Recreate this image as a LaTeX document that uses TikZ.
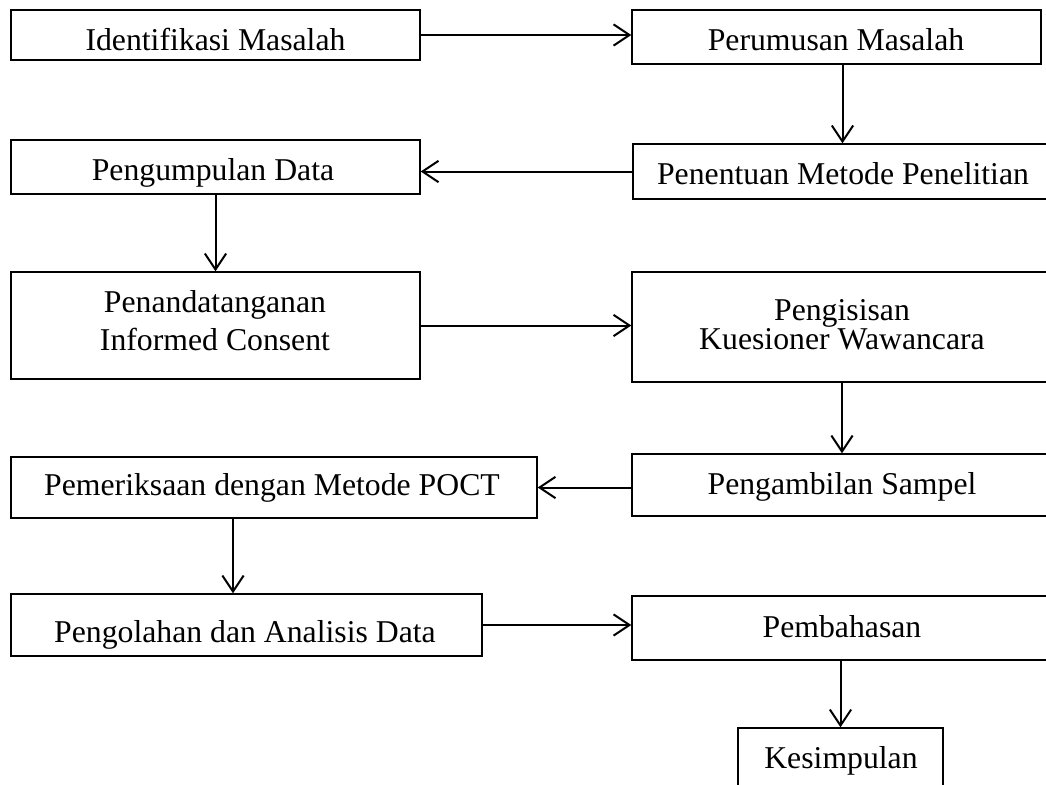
\documentclass[tikz,border=0pt]{standalone}
\usepackage{fontspec}
\setmainfont{Liberation Serif}
\usetikzlibrary{arrows.meta,fit}
\begin{document}
\begin{tikzpicture}[x=0.75pt,y=-0.75pt,
  box/.style={draw=black,line width=1pt,inner sep=0pt,rectangle},
  txt/.style={anchor=base,inner sep=0pt,font=\fontsize{23.8}{28}\selectfont},
  arr/.style={line width=1.5pt,-{Straight Barb[length=12pt,width=16pt,line width=1.5pt]}}]
\clip (0,0) rectangle (1046,785);
\fill[white] (0,0) rectangle (1046,785);
% boxes
\node[box,fit={(11,10) (420,60)}] (b1) {};
\node[box,fit={(632,10) (1041,64)}] (b2) {};
\node[box,fit={(11,140) (420,194)}] (b3) {};
\node[box,fit={(633,144) (1052,199)}] (b4) {};
\node[box,fit={(11,272) (420,379)}] (b5) {};
\node[box,fit={(632,272) (1052,382)}] (b6) {};
\node[box,fit={(11,457) (537,518)}] (b7) {};
\node[box,fit={(632,454) (1052,516)}] (b8) {};
\node[box,fit={(11,594) (482,656)}] (b9) {};
\node[box,fit={(632,596) (1052,660)}] (b10) {};
\node[box,fit={(738,728) (943,800)}] (b11) {};
% texts
\node[txt] (t1) at (215.5,50) {Identifikasi Masalah};
\node[txt] (t2) at (836,50) {Perumusan Masalah};
\node[txt] (t3) at (213,180) {Pengumpulan Data};
\node[txt] (t4) at (843,184) {Penentuan Metode Penelitian};
\node[txt] (t5a) at (215,312) {Penandatanganan};
\node[txt] (t5b) at (215,350) {Informed Consent};
\node[txt] (t6a) at (842,320.5) {Pengisisan};
\node[txt] (t6b) at (842,349.5) {Kuesioner Wawancara};
\node[txt] (t7) at (272,495) {Pemeriksaan dengan Metode POCT};
\node[txt] (t8) at (842,494) {Pengambilan Sampel};
\node[txt] (t9) at (245,642) {Pengolahan dan Analisis Data};
\node[txt] (t10) at (842,637) {Pembahasan};
\node[txt] (t11) at (841,768) {Kesimpulan};
% connectors
\coordinate (k79) at (233,0);
\draw[arr] (b1.east) -- (b1.east -| b2.west);
\draw[arr] (b2.south -| b4.north) -- (b4.north);
\draw[arr] (b4.west) -- (b4.west -| b3.east);
\draw[arr] (b3.south) -- (b3.south |- b5.north);
\draw[arr] (b5.east) -- (b5.east -| b6.west);
\draw[arr] (b6.south) -- (b8.north);
\draw[arr] (b8.west |- b7.east) -- (b7.east);
\draw[arr] (b7.south -| k79) -- (b9.north -| k79);
\draw[arr] (b9.east) -- (b9.east -| b10.west);
\draw[arr] (b10.south -| b11.north) -- (b11.north);
\end{tikzpicture}
\end{document}
